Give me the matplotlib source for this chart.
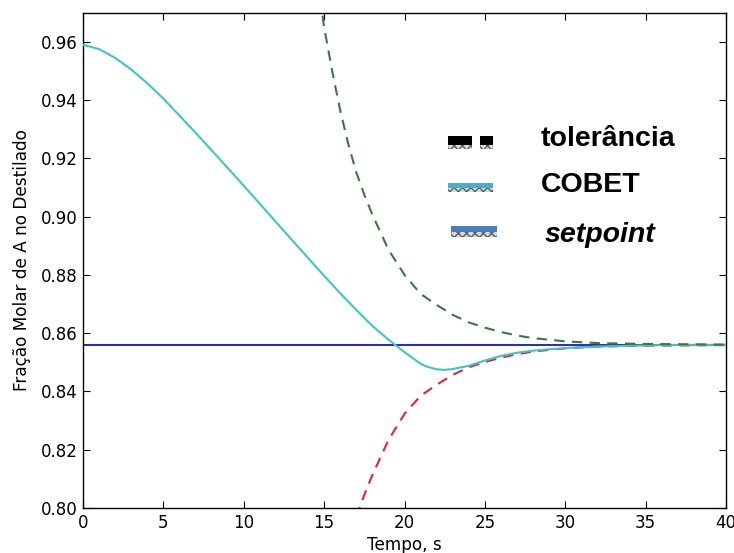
import matplotlib
matplotlib.use("Agg")
import matplotlib.pyplot as plt
from matplotlib.patches import Rectangle

# ---- data ----
t_cobet = [0, 1, 2, 3, 4, 5, 6, 7, 8, 9, 10, 11, 12, 13, 14, 15, 16, 17, 18, 19,
           20, 21, 21.4, 22, 22.5, 23, 24, 25, 26, 27, 28, 29, 30, 32, 34, 36, 38, 40]
x_cobet = [0.9590, 0.9575, 0.9545, 0.9505, 0.9458, 0.9405, 0.9347, 0.9288, 0.9228,
           0.9167, 0.9106, 0.9044, 0.8982, 0.8920, 0.8858, 0.8797, 0.8737, 0.8680,
           0.8625, 0.8578, 0.8535, 0.8495, 0.8485, 0.8476, 0.8474, 0.8477, 0.8488,
           0.8506, 0.8522, 0.8533, 0.8540, 0.8545, 0.8549, 0.8554, 0.8557, 0.8559,
           0.8560, 0.8560]

t_upper = [14.9, 15.0, 15.5, 16.0, 16.5, 17.0, 17.5, 18.0, 19.0, 20.0, 21.0, 22.0,
           23.0, 24.0, 25.0, 26.0, 27.0, 28.0, 30.0, 32.0, 35.0, 40.0]
x_upper = [0.9690, 0.9650, 0.9500, 0.9365, 0.9250, 0.9152, 0.9075, 0.9007, 0.8887,
           0.8800, 0.8735, 0.8697, 0.8663, 0.8637, 0.8619, 0.8604, 0.8592, 0.8583,
           0.8572, 0.8566, 0.8563, 0.8561]

t_lower = [17.0, 17.5, 18.0, 19.0, 20.0, 21.0, 22.0, 23.0, 24.0, 25.0, 26.0, 27.0,
           28.0, 30.0, 32.0, 35.0, 40.0]
x_lower = [0.7970, 0.8045, 0.8113, 0.8233, 0.8323, 0.8385, 0.8423, 0.8457, 0.8483,
           0.8501, 0.8516, 0.8528, 0.8537, 0.8548, 0.8554, 0.8557, 0.8559]

setpoint = 0.856
x_ticks = [0, 5, 10, 15, 20, 25, 30, 35, 40]
y_ticks = [0.80, 0.82, 0.84, 0.86, 0.88, 0.90, 0.92, 0.94, 0.96]
legend_labels = ["tolerância", "COBET", "setpoint"]

W, H = 734, 553
fig = plt.figure(figsize=(W / 100, H / 100), dpi=100)
ax = fig.add_axes([83 / W, 1 - 508 / H, (726 - 83) / W, (508 - 12.7) / H])

ax.axhline(setpoint, color="#0000cc", lw=1.2, zorder=2)
ax.plot(t_lower, x_lower, color="#e8203a", lw=1.5, dashes=(5, 3.5), zorder=3)
ax.plot(t_cobet, x_cobet, color="#3cc8c0", lw=1.5, zorder=4)
ax.plot(t_upper, x_upper, color="#3a7a3a", lw=1.5, dashes=(5, 3.5), zorder=5)

ax.set_xlim(0, 40)
ax.set_ylim(0.80, 0.97)
ax.set_xticks(x_ticks)
ax.set_yticks(y_ticks)
ax.set_yticklabels([f"{v:.2f}" for v in y_ticks])
ax.tick_params(direction="in", top=True, right=True, length=5, width=0.8,
               labelsize=12, colors="black", pad=4)
for s in ax.spines.values():
    s.set_linewidth(1.0)
ax.set_xlabel("Tempo, s", fontsize=12.2, labelpad=3)
ax.set_ylabel("Fração Molar de A no Destilado", fontsize=12.2, labelpad=7)

# ---- custom legend (figure pixel coordinates) ----
def px_rect(x0, y0, x1, y1, **kw):
    fig.patches.append(Rectangle((x0 / W, 1 - y1 / H), (x1 - x0) / W, (y1 - y0) / H,
                                 transform=fig.transFigure, figure=fig, **kw))

def marker(x0, x1, ytop, ymid, ybot, color):
    px_rect(x0, ytop, x1, ymid, facecolor=color, edgecolor="none")
    px_rect(x0, ymid, x1, ybot, facecolor="#d8d8d8", edgecolor="#606060",
            hatch="xxxx", lw=0)

marker(448, 472, 136, 145, 149, "black")
marker(480, 493, 136, 145, 149, "black")
marker(448, 493, 182.5, 188, 192, "#45b0c8")
marker(451, 496.5, 225.5, 232.5, 237.5, "#4a7ec0")

fig.text(541 / W, 1 - 146 / H, legend_labels[0], fontsize=20.5, fontweight="bold",
         family="Liberation Sans", va="baseline", ha="left")
fig.text(541 / W, 1 - 192 / H, legend_labels[1], fontsize=20.5, fontweight="bold",
         family="Liberation Sans", va="baseline", ha="left")
fig.text(545 / W, 1 - 242 / H, legend_labels[2], fontsize=20.5, fontweight="bold",
         style="italic", family="Liberation Sans", va="baseline", ha="left")

fig.savefig("out.png", dpi=100)
